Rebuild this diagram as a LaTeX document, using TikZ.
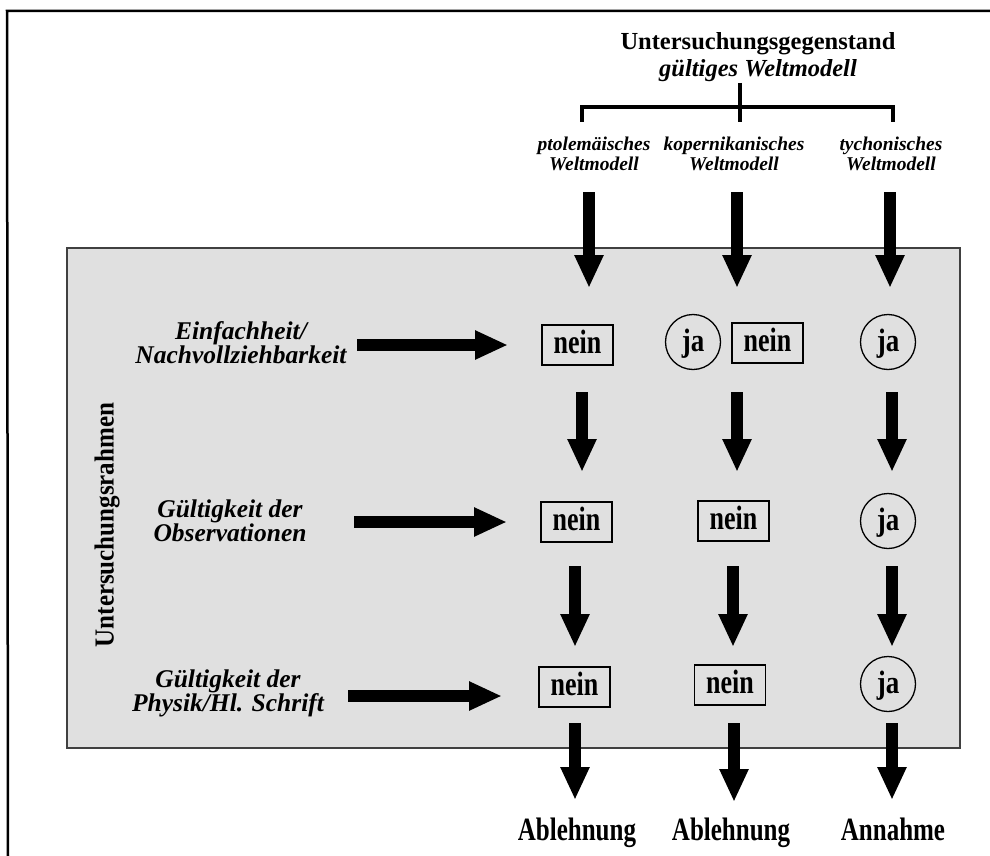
\documentclass[tikz,border=0pt]{standalone}
\usepackage{fontspec}
\setmainfont{Liberation Serif}
\usetikzlibrary{arrows.meta}
\definecolor{panelgray}{HTML}{E0E0E0}
\definecolor{panelline}{HTML}{404040}
\newcommand{\tallish}[2]{\scalebox{1}[#1]{#2}}
\tikzset{
  bigarrow/.style={line width=12.5pt,-{Triangle[width=27pt,length=33pt]}},
  neinbox/.style={draw,line width=1.3pt,minimum width=71pt,minimum height=40pt,inner sep=0pt,text height=17pt,text depth=0pt,font=\fontsize{26}{28}\selectfont\bfseries},
  jacircle/.style={draw,circle,line width=1.3pt,minimum size=55pt,inner sep=0pt,text height=18pt,text depth=0pt,font=\fontsize{27}{28}\selectfont\bfseries},
  rowlabel/.style={align=center,inner sep=0pt,font=\fontsize{25.5}{24}\selectfont\bfseries\itshape},
  collabel/.style={align=center,inner sep=0pt,font=\fontsize{19.5}{20}\selectfont\bfseries\itshape},
  result/.style={anchor=base,inner sep=0pt,font=\fontsize{25}{28}\selectfont\bfseries},
  bracket/.style={line width=3.5pt},
  frame/.style={line width=2.5pt}
}
\begin{document}
\begin{tikzpicture}[x=1pt,y=-1pt]
\useasboundingbox (0,0) rectangle (990,856);
% outer frame (top and left)
\coordinate (fa) at (7,11);
\coordinate (fb) at (990,11);
\coordinate (fc) at (8,856);
\draw[frame] (fb) -- (fa) -- (fc);
% panel
\node[draw=panelline,line width=2pt,fill=panelgray,minimum width=893pt,minimum height=500pt,inner sep=0pt] (panel) at (513.5,498) {};
\node[rotate=90,inner sep=0pt,font=\fontsize{25}{28}\selectfont\bfseries] (rahmen) at (107,525) {\tallish{1.1}{Untersuchungsrahmen}};
% title
\node[align=center,inner sep=0pt,font=\fontsize{24.5}{27}\selectfont\bfseries] (title) at (758,57) {Untersuchungsgegenstand\\\itshape gültiges Weltmodell};
% bracket
\coordinate (bs) at (740,83);
\coordinate (bm) at (740,122);
\coordinate (bl) at (582,107);
\coordinate (bll) at (582,122);
\coordinate (br) at (893,107);
\coordinate (brr) at (893,122);
\draw[bracket] (bll) -- (bl) -- (br) -- (brr);
\draw[bracket] (bs) -- (bm);
% column labels
\node[collabel] (c1) at (594,154) {ptolemäisches\\Weltmodell};
\node[collabel] (c2) at (734,154) {kopernikanisches\\Weltmodell};
\node[collabel] (c3) at (891,154) {tychonisches\\Weltmodell};
% row labels
\node[rowlabel] (r1) at (241,343) {Einfachheit/\\Nachvollziehbarkeit};
\node[rowlabel] (r2) at (230,521) {Gültigkeit der\\Observationen};
\node[rowlabel] (r3) at (228,693) {Gültigkeit der\\Physik/Hl. Schrift};
% row 1
\node[neinbox] (n11) at (577.5,345) {\tallish{1.3}{nein}};
\node[jacircle] (j12) at (693,342) {\tallish{1.2}{ja}};
\node[neinbox] (n12) at (767.5,343) {\tallish{1.3}{nein}};
\node[jacircle] (j13) at (888,342) {\tallish{1.2}{ja}};
% row 2
\node[neinbox] (n21) at (576.5,522) {\tallish{1.3}{nein}};
\node[neinbox] (n22) at (733.5,521) {\tallish{1.3}{nein}};
\node[jacircle] (j23) at (888,521) {\tallish{1.2}{ja}};
% row 3
\node[neinbox] (n31) at (574.5,687) {\tallish{1.3}{nein}};
\node[neinbox] (n32) at (730,685) {\tallish{1.3}{nein}};
\node[jacircle] (j33) at (888,684) {\tallish{1.2}{ja}};
% results
\node[result] (e1) at (577,840) {\tallish{1.3}{Ablehnung}};
\node[result] (e2) at (731,840) {\tallish{1.3}{Ablehnung}};
\node[result] (e3) at (893,840) {\tallish{1.3}{Annahme}};
% arrow coordinates
\coordinate (t1s) at (589,192); \coordinate (t1e) at (589,288);
\coordinate (t2s) at (737,192); \coordinate (t2e) at (737,288);
\coordinate (t3s) at (890,192); \coordinate (t3e) at (890,288);
\coordinate (u1s) at (582,392); \coordinate (u1e) at (582,472);
\coordinate (u2s) at (737,392); \coordinate (u2e) at (737,472);
\coordinate (u3s) at (892,392); \coordinate (u3e) at (892,472);
\coordinate (v1s) at (575,566); \coordinate (v1e) at (575,647);
\coordinate (v2s) at (733,566); \coordinate (v2e) at (733,647);
\coordinate (v3s) at (892,566); \coordinate (v3e) at (892,647);
\coordinate (w1s) at (575,723); \coordinate (w1e) at (575,800);
\coordinate (w2s) at (734,723); \coordinate (w2e) at (734,802);
\coordinate (w3s) at (892,723); \coordinate (w3e) at (892,800);
\coordinate (h1s) at (357,345); \coordinate (h1e) at (508,345);
\coordinate (h2s) at (354,522); \coordinate (h2e) at (507,522);
\coordinate (h3s) at (348,696); \coordinate (h3e) at (502,696);
\foreach \a in {t1,t2,t3,u1,u2,u3,v1,v2,v3,w1,w2,w3,h1,h2,h3}
  \draw[bigarrow] (\a s) -- (\a e);
\end{tikzpicture}
\end{document}
